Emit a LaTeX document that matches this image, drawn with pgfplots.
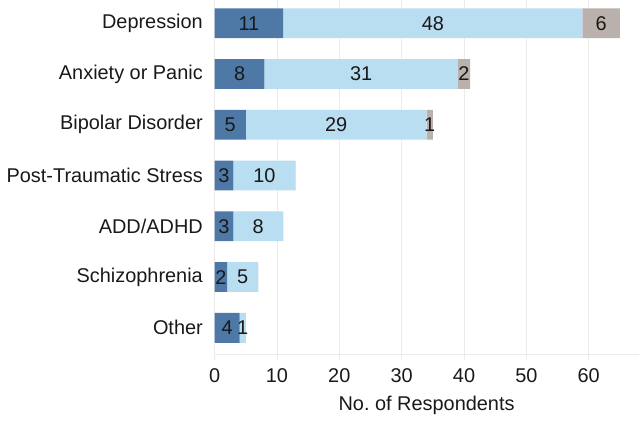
\documentclass[border=0pt]{standalone}
\usepackage{fontspec}
\setmainfont{Liberation Sans}
\usepackage{pgfplots}
\pgfplotsset{compat=1.18}
\definecolor{dblue}{HTML}{4E79A7}
\definecolor{lblue}{HTML}{B9DDF1}
\definecolor{lgrey}{HTML}{BAB0AC}
\definecolor{gridc}{HTML}{EBEBEB}
\begin{document}
\fontsize{20}{23}\selectfont
\begin{tikzpicture}
\begin{axis}[
  scale only axis, width=426pt, height=356pt,
  xmin=0, xmax=68, ymin=0.47, ymax=7.45,
  stack plots=x,
  xtick={0,10,...,60},
  ytick={1,...,7},
  yticklabels={Other,Schizophrenia,ADD/ADHD,Post-Traumatic Stress,Bipolar Disorder,Anxiety or Panic,Depression},
  axis x line*=bottom, axis y line*=left,
  x axis line style={draw=gridc, line width=0.8pt},
  y axis line style={draw=none},
  xmajorgrids, grid style={gridc, line width=0.8pt},
  xtick style={draw=gridc, line width=0.8pt},
  ytick style={draw=none},
  major tick length=5pt, tick align=outside,
  /pgf/number format/assume math mode=true,
  ticklabel style={font=\fontsize{20}{23}\selectfont, text=black!90},
  xticklabel style={yshift=-2pt},
  xlabel={No.\ of Respondents},
  xlabel style={font=\fontsize{20}{23}\selectfont, text=black!90, yshift=0pt},
  every node near coord/.append style={anchor=center, font=\fontsize{20}{23}\selectfont, text=black!90},
]
\addplot[xbar, bar width=30pt, bar shift=0pt, fill=dblue, draw=none] coordinates {(11,7) (8,6) (5,5) (3,4) (3,3) (2,2) (4,1)};
\addplot[xbar, bar width=30pt, bar shift=0pt, fill=lblue, draw=none] coordinates {(48,7) (31,6) (29,5) (10,4) (8,3) (5,2) (1,1)};
\addplot[xbar, bar width=30pt, bar shift=0pt, fill=lgrey, draw=none] coordinates {(6,7) (2,6) (1,5) (0,4) (0,3) (0,2) (0,1)};
\addplot[stack plots=false, draw=none, mark=none, nodes near coords, point meta=explicit symbolic] table[meta=l] {
x y l
5.5 7 11
35 7 48
62 7 6
4 6 8
23.5 6 31
40 6 2
2.5 5 5
19.5 5 29
34.5 5 1
1.5 4 3
8 4 10
1.5 3 3
7 3 8
1 2 2
4.5 2 5
2 1 4
4.5 1 1
};
\end{axis}
\end{tikzpicture}
\end{document}
